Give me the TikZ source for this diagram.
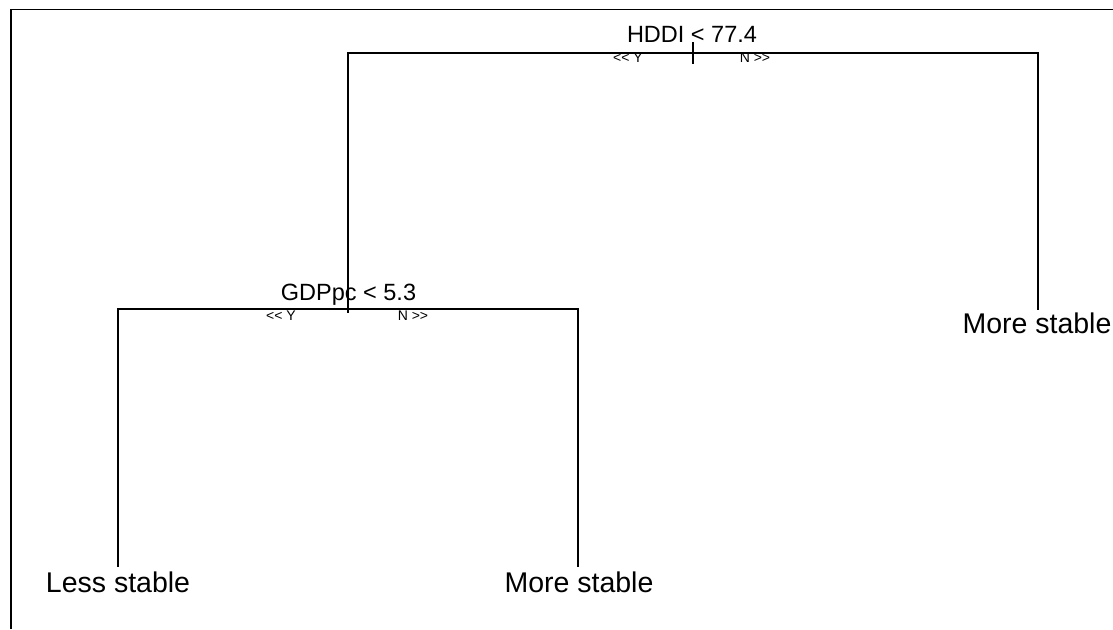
\documentclass[tikz,border=0pt]{standalone}
\usepackage{fontspec}
\setmainfont{Liberation Sans}
\tikzset{br/.style={line width=1.6pt,line cap=rect}}
\tikzset{leaf/.style={font=\fontsize{28.5}{30}\selectfont,inner sep=0pt,anchor=base}}
\tikzset{split/.style={font=\fontsize{23.5}{26}\selectfont,inner sep=0pt,anchor=base}}
\tikzset{yn/.style={font=\fontsize{14}{15}\selectfont,inner sep=0pt,anchor=base}}
\newcommand{\LtLt}{<\kern0pt<}
\newcommand{\GtGt}{>\kern0pt>}
\begin{document}
\begin{tikzpicture}[x=1pt,y=-1pt]
\useasboundingbox(0,0)rectangle(1113,629);
\draw[line width=1pt](11,9)--(1113,9);\draw[line width=2pt](11,9)--(11,629);
% splits and leaf ends
\coordinate(r)at(693,53);\coordinate(s)at(348,309);
\coordinate(e1)at(118,566);\coordinate(e2)at(578,566);\coordinate(e3)at(1038,309);
\draw[br](s)|-(r)-|(e3);\draw[br](e1)|-(s)-|(e2);
\draw[br](r)++(0,-10)--++(0,20);\draw[br](s)--++(0,3);
% labels
\node[split](rlab)at(692,42){HDDI < 77.4};
\node[split](slab)at(348.5,300){GDPpc < 5.3};
\node[yn](ry)at(628,62){\LtLt{} Y};\node[yn](rn)at(755,62){N \GtGt};
\node[yn](sy)at(281,320){\LtLt{} Y};\node[yn](sn)at(413,320){N \GtGt};
\node[leaf](t1)at(118,592){Less stable};
\node[leaf](t2)at(579,592){More stable};
\node[leaf](t3)at(1037,333){More stable};
\end{tikzpicture}
\end{document}
